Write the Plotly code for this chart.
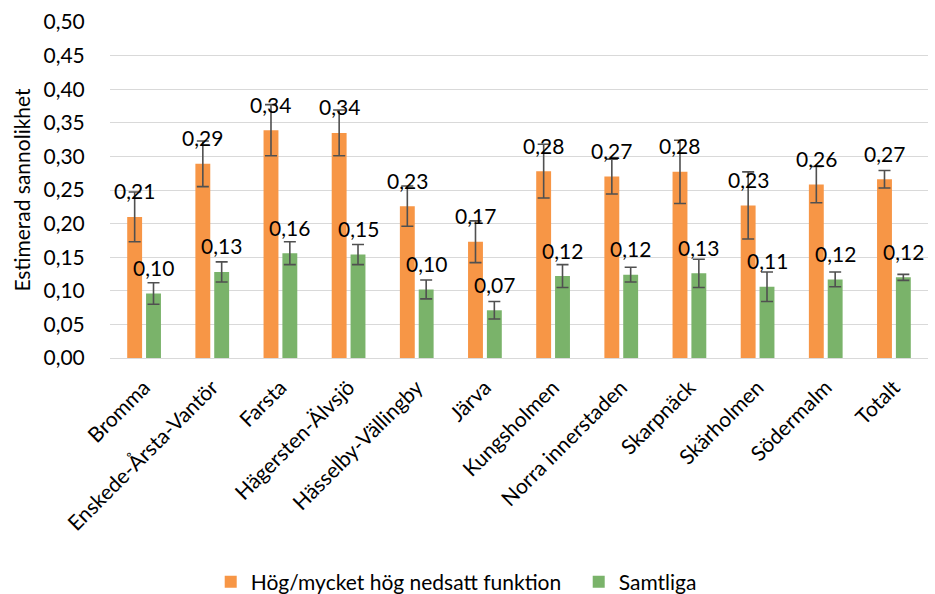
import plotly.graph_objects as go

categories = ["Bromma", "Enskede-Årsta-Vantör", "Farsta", "Hägersten-Älvsjö",
              "Hässelby-Vällingby", "Järva", "Kungsholmen", "Norra innerstaden",
              "Skarpnäck", "Skärholmen", "Södermalm", "Totalt"]
series_names = ["Hög/mycket hög nedsatt funktion", "Samtliga"]
hog_values = [0.210, 0.289, 0.339, 0.335, 0.226, 0.173, 0.278, 0.270, 0.277, 0.227, 0.258, 0.266]
hog_err = [0.037, 0.034, 0.038, 0.034, 0.030, 0.031, 0.040, 0.026, 0.047, 0.050, 0.027, 0.013]
samt_values = [0.096, 0.128, 0.156, 0.154, 0.102, 0.071, 0.122, 0.124, 0.126, 0.106, 0.117, 0.120]
samt_err = [0.016, 0.015, 0.017, 0.015, 0.014, 0.013, 0.017, 0.011, 0.021, 0.022, 0.011, 0.0045]

FONT = "Lato"
FS = 21
ORANGE = "#F79646"
GREEN = "#7AB36A"
ERRC = "#505050"

fig = go.Figure()
for name, vals, errs, col in [(series_names[0], hog_values, hog_err, ORANGE),
                              (series_names[1], samt_values, samt_err, GREEN)]:
    fig.add_trace(go.Bar(
        x=categories, y=vals, name=name, marker=dict(color=col, line=dict(width=0)),
        error_y=dict(type="data", array=errs, visible=True, color=ERRC, thickness=1.6, width=6),
    ))

def fmt(v):
    return f"{v:.2f}".replace(".", ",")

annotations = []
for vals, shift in [(hog_values, -9.5), (samt_values, 9.5)]:
    for c, v in zip(categories, vals):
        annotations.append(dict(x=c, y=v, xref="x", yref="y", text=fmt(v), showarrow=False,
                                xshift=shift, yshift=26, yanchor="middle", xanchor="center",
                                font=dict(family=FONT, size=FS, color="#000000")))

fig.update_layout(
    width=935, height=594,
    margin=dict(l=110, r=7, t=22, b=236, autoexpand=False),
    paper_bgcolor="white", plot_bgcolor="white",
    separators=", ",
    barmode="group", bargap=0.447, bargroupgap=0.21,
    font=dict(family=FONT, size=FS, color="#000000"),
    annotations=annotations,
    showlegend=True,
    legend=dict(orientation="h", x=0.573, xanchor="center",
                y=-0.667, yanchor="middle", entrywidth=323, entrywidthmode="pixels",
                font=dict(family=FONT, size=FS, color="#000000"), traceorder="normal"),
    yaxis=dict(range=[0, 0.5], dtick=0.05, tickformat=".2f", showgrid=True,
               gridcolor="#D9D9D9", gridwidth=1, zeroline=False, showline=False,
               ticks="outside", ticklen=20, tickcolor="rgba(0,0,0,0)",
               title=dict(text="Estimerad sannolikhet", font=dict(family=FONT, size=FS), standoff=7),
               tickfont=dict(family=FONT, size=FS)),
    xaxis=dict(tickangle=-45, showline=True, linecolor="#D9D9D9", linewidth=1,
               tickfont=dict(family=FONT, size=FS), ticks="outside", ticklen=8,
               tickcolor="rgba(0,0,0,0)"),
)

fig.write_html("out.html", config={"displayModeBar": False},
               post_script="document.body.style.margin='0';")
